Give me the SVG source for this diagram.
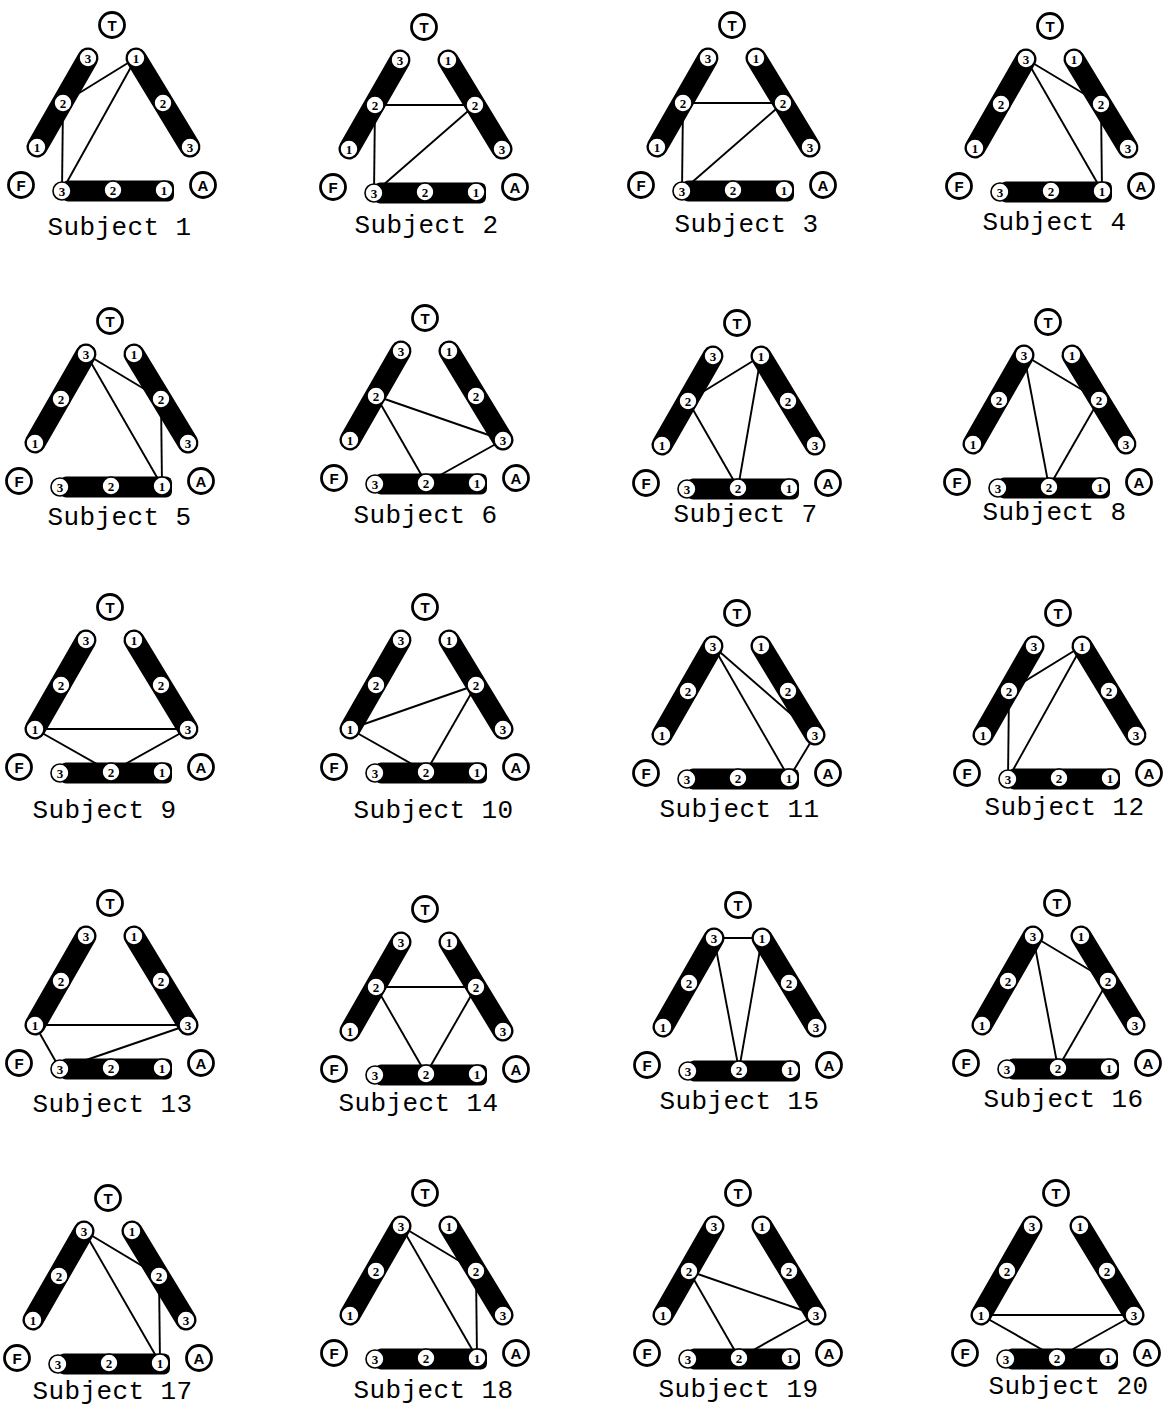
<svg xmlns="http://www.w3.org/2000/svg" xmlns:xlink="http://www.w3.org/1999/xlink" width="1174" height="1408" viewBox="0 0 1174 1408">
<style>
.bar{stroke:#000;stroke-width:21;stroke-linecap:round;fill:none}
.bb{fill:#000}
.big{fill:#fff;stroke:#000;stroke-width:2.8}
.dot{fill:#fff;stroke:#000;stroke-width:1.6}
.bl{font-family:"Liberation Sans",Arial,sans-serif;font-weight:bold;font-size:15px;text-anchor:middle;dominant-baseline:central}
.dl{font-family:"Liberation Serif","Times New Roman",serif;font-weight:bold;font-size:13px;text-anchor:middle;dominant-baseline:central}
.ln{stroke:#000;stroke-width:1.9;fill:none}
.lbl{font-family:"Liberation Mono","Courier New",monospace;font-size:26px;letter-spacing:0.4px;fill:#000}
</style>
<defs>
<g id="frame">
  <line class="bar" x1="-75" y1="122" x2="-24" y2="33"/>
  <line class="bar" x1="24" y1="33" x2="78" y2="122"/>
  <rect class="bb" x="-50" y="155.5" width="112" height="21" rx="6"/>
  <circle class="big" cx="0" cy="0" r="12.5"/><text class="bl" x="0" y="0.5">T</text>
  <circle class="big" cx="-91" cy="160" r="12.5"/><text class="bl" x="-91" y="160.5">F</text>
  <circle class="big" cx="91" cy="160" r="12.5"/><text class="bl" x="91" y="160.5">A</text>
  <circle class="dot" cx="-75" cy="122" r="9"/><text class="dl" x="-75" y="122.5">1</text>
  <circle class="dot" cx="-49" cy="78" r="9"/><text class="dl" x="-49" y="78.5">2</text>
  <circle class="dot" cx="-24" cy="33" r="9"/><text class="dl" x="-24" y="33.5">3</text>
  <circle class="dot" cx="24" cy="33" r="9"/><text class="dl" x="24" y="33.5">1</text>
  <circle class="dot" cx="51" cy="78" r="9"/><text class="dl" x="51" y="78.5">2</text>
  <circle class="dot" cx="78" cy="122" r="9"/><text class="dl" x="78" y="122.5">3</text>
  <circle class="dot" cx="-50" cy="166" r="9"/><text class="dl" x="-50" y="166.5">3</text>
  <circle class="dot" cx="1" cy="165" r="9"/><text class="dl" x="1" y="165.5">2</text>
  <circle class="dot" cx="52" cy="165" r="9"/><text class="dl" x="52" y="165.5">1</text>
</g>
</defs>

<g id="connectors">
  <g id="links-1" transform="translate(112,25)"><line class="ln" x1="-49" y1="78" x2="24" y2="33"/><line class="ln" x1="24" y1="33" x2="-50" y2="166"/><line class="ln" x1="-49" y1="78" x2="-50" y2="166"/></g>
  <g id="links-2" transform="translate(424,27)"><line class="ln" x1="-49" y1="78" x2="51" y2="78"/><line class="ln" x1="-49" y1="78" x2="-50" y2="166"/><line class="ln" x1="51" y1="78" x2="-50" y2="166"/></g>
  <g id="links-3" transform="translate(732,25)"><line class="ln" x1="-49" y1="78" x2="51" y2="78"/><line class="ln" x1="-49" y1="78" x2="-50" y2="166"/><line class="ln" x1="51" y1="78" x2="-50" y2="166"/></g>
  <g id="links-4" transform="translate(1050,26)"><line class="ln" x1="-24" y1="33" x2="51" y2="78"/><line class="ln" x1="51" y1="78" x2="52" y2="165"/><line class="ln" x1="-24" y1="33" x2="52" y2="165"/></g>
  <g id="links-5" transform="translate(110,321)"><line class="ln" x1="-24" y1="33" x2="51" y2="78"/><line class="ln" x1="-24" y1="33" x2="52" y2="165"/><line class="ln" x1="51" y1="78" x2="52" y2="165"/></g>
  <g id="links-6" transform="translate(425,318)"><line class="ln" x1="-49" y1="78" x2="78" y2="122"/><line class="ln" x1="-49" y1="78" x2="1" y2="165"/><line class="ln" x1="78" y1="122" x2="1" y2="165"/></g>
  <g id="links-7" transform="translate(737,323)"><line class="ln" x1="-49" y1="78" x2="24" y2="33"/><line class="ln" x1="-49" y1="78" x2="1" y2="165"/><line class="ln" x1="24" y1="33" x2="1" y2="165"/></g>
  <g id="links-8" transform="translate(1048,322)"><line class="ln" x1="-24" y1="33" x2="51" y2="78"/><line class="ln" x1="-24" y1="33" x2="1" y2="165"/><line class="ln" x1="51" y1="78" x2="1" y2="165"/></g>
  <g id="links-9" transform="translate(110,607)"><line class="ln" x1="-75" y1="122" x2="78" y2="122"/><line class="ln" x1="-75" y1="122" x2="1" y2="165"/><line class="ln" x1="78" y1="122" x2="1" y2="165"/></g>
  <g id="links-10" transform="translate(425,607)"><line class="ln" x1="-75" y1="122" x2="51" y2="78"/><line class="ln" x1="-75" y1="122" x2="1" y2="165"/><line class="ln" x1="51" y1="78" x2="1" y2="165"/></g>
  <g id="links-11" transform="translate(737,613)"><line class="ln" x1="-24" y1="33" x2="78" y2="122"/><line class="ln" x1="-24" y1="33" x2="52" y2="165"/><line class="ln" x1="78" y1="122" x2="52" y2="165"/></g>
  <g id="links-12" transform="translate(1058,613)"><line class="ln" x1="-49" y1="78" x2="24" y2="33"/><line class="ln" x1="-49" y1="78" x2="-50" y2="166"/><line class="ln" x1="24" y1="33" x2="-50" y2="166"/></g>
  <g id="links-13" transform="translate(110,903)"><line class="ln" x1="-75" y1="122" x2="78" y2="122"/><line class="ln" x1="-75" y1="122" x2="-50" y2="166"/><line class="ln" x1="78" y1="122" x2="-50" y2="166"/></g>
  <g id="links-14" transform="translate(425,909)"><line class="ln" x1="-49" y1="78" x2="51" y2="78"/><line class="ln" x1="-49" y1="78" x2="1" y2="165"/><line class="ln" x1="51" y1="78" x2="1" y2="165"/></g>
  <g id="links-15" transform="translate(738,905)"><line class="ln" x1="-24" y1="33" x2="24" y2="33"/><line class="ln" x1="-24" y1="33" x2="1" y2="165"/><line class="ln" x1="24" y1="33" x2="1" y2="165"/></g>
  <g id="links-16" transform="translate(1057,903)"><line class="ln" x1="-24" y1="33" x2="51" y2="78"/><line class="ln" x1="-24" y1="33" x2="1" y2="165"/><line class="ln" x1="51" y1="78" x2="1" y2="165"/></g>
  <g id="links-17" transform="translate(108,1198)"><line class="ln" x1="-24" y1="33" x2="51" y2="78"/><line class="ln" x1="-24" y1="33" x2="52" y2="165"/><line class="ln" x1="51" y1="78" x2="52" y2="165"/></g>
  <g id="links-18" transform="translate(425,1193)"><line class="ln" x1="-24" y1="33" x2="51" y2="78"/><line class="ln" x1="-24" y1="33" x2="52" y2="165"/><line class="ln" x1="51" y1="78" x2="52" y2="165"/></g>
  <g id="links-19" transform="translate(738,1193)"><line class="ln" x1="-49" y1="78" x2="78" y2="122"/><line class="ln" x1="-49" y1="78" x2="1" y2="165"/><line class="ln" x1="78" y1="122" x2="1" y2="165"/></g>
  <g id="links-20" transform="translate(1056,1193)"><line class="ln" x1="-75" y1="122" x2="78" y2="122"/><line class="ln" x1="-75" y1="122" x2="1" y2="165"/><line class="ln" x1="78" y1="122" x2="1" y2="165"/></g>
</g>

<g id="subject-1"><use href="#frame" xlink:href="#frame" x="112" y="25"/><text class="lbl" x="47.5" y="235">Subject 1</text></g>
<g id="subject-2"><use href="#frame" xlink:href="#frame" x="424" y="27"/><text class="lbl" x="354.5" y="233">Subject 2</text></g>
<g id="subject-3"><use href="#frame" xlink:href="#frame" x="732" y="25"/><text class="lbl" x="674.5" y="232">Subject 3</text></g>
<g id="subject-4"><use href="#frame" xlink:href="#frame" x="1050" y="26"/><text class="lbl" x="982.5" y="230">Subject 4</text></g>
<g id="subject-5"><use href="#frame" xlink:href="#frame" x="110" y="321"/><text class="lbl" x="47.5" y="525">Subject 5</text></g>
<g id="subject-6"><use href="#frame" xlink:href="#frame" x="425" y="318"/><text class="lbl" x="353.5" y="523">Subject 6</text></g>
<g id="subject-7"><use href="#frame" xlink:href="#frame" x="737" y="323"/><text class="lbl" x="673.5" y="522">Subject 7</text></g>
<g id="subject-8"><use href="#frame" xlink:href="#frame" x="1048" y="322"/><text class="lbl" x="982.5" y="520">Subject 8</text></g>
<g id="subject-9"><use href="#frame" xlink:href="#frame" x="110" y="607"/><text class="lbl" x="32.5" y="818">Subject 9</text></g>
<g id="subject-10"><use href="#frame" xlink:href="#frame" x="425" y="607"/><text class="lbl" x="353.5" y="818">Subject 10</text></g>
<g id="subject-11"><use href="#frame" xlink:href="#frame" x="737" y="613"/><text class="lbl" x="659.5" y="817">Subject 11</text></g>
<g id="subject-12"><use href="#frame" xlink:href="#frame" x="1058" y="613"/><text class="lbl" x="984.5" y="815">Subject 12</text></g>
<g id="subject-13"><use href="#frame" xlink:href="#frame" x="110" y="903"/><text class="lbl" x="32.5" y="1112">Subject 13</text></g>
<g id="subject-14"><use href="#frame" xlink:href="#frame" x="425" y="909"/><text class="lbl" x="338.5" y="1111">Subject 14</text></g>
<g id="subject-15"><use href="#frame" xlink:href="#frame" x="738" y="905"/><text class="lbl" x="659.5" y="1109">Subject 15</text></g>
<g id="subject-16"><use href="#frame" xlink:href="#frame" x="1057" y="903"/><text class="lbl" x="983.5" y="1107">Subject 16</text></g>
<g id="subject-17"><use href="#frame" xlink:href="#frame" x="108" y="1198"/><text class="lbl" x="32.5" y="1399">Subject 17</text></g>
<g id="subject-18"><use href="#frame" xlink:href="#frame" x="425" y="1193"/><text class="lbl" x="353.5" y="1398">Subject 18</text></g>
<g id="subject-19"><use href="#frame" xlink:href="#frame" x="738" y="1193"/><text class="lbl" x="658.5" y="1397">Subject 19</text></g>
<g id="subject-20"><use href="#frame" xlink:href="#frame" x="1056" y="1193"/><text class="lbl" x="988.5" y="1394">Subject 20</text></g>
</svg>
